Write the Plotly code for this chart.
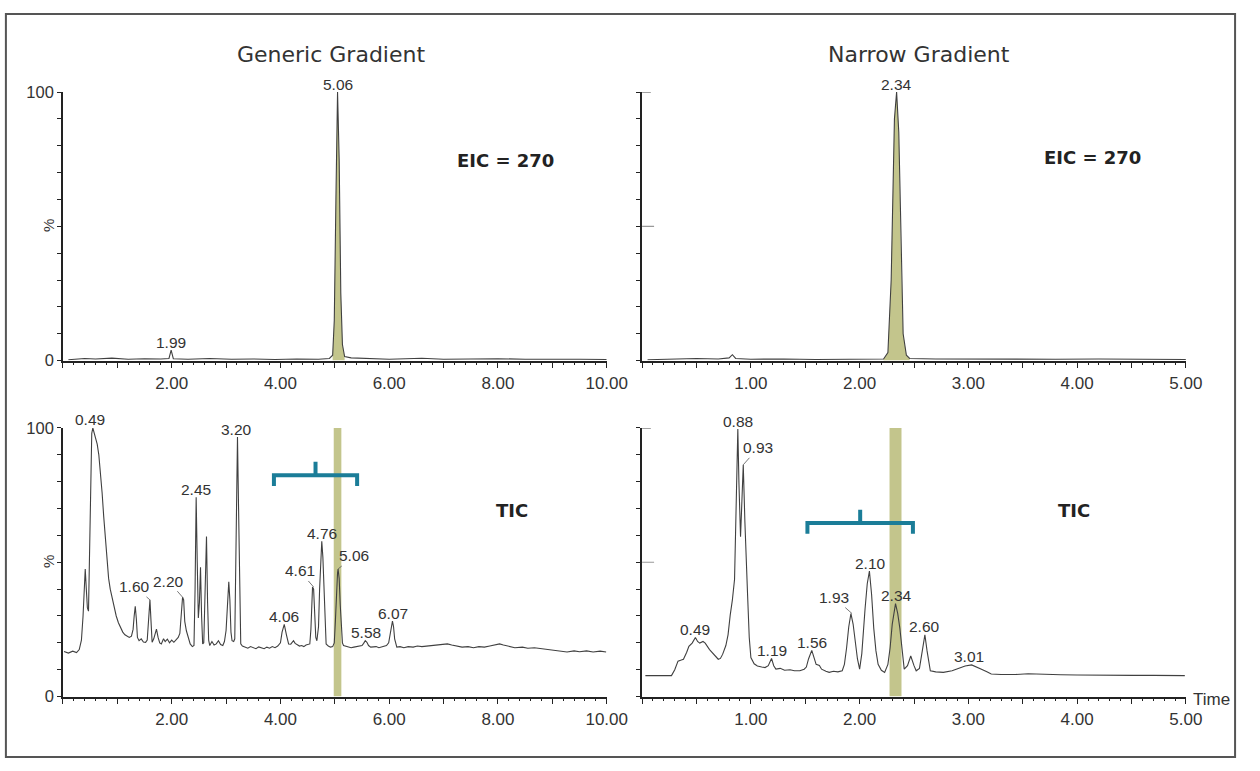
import plotly.graph_objects as go

# ---------------- data ----------------
# Generic gradient, EIC = 270 (time in min, intensity in %)
gen_eic_time = [0.10, 0.40, 0.60, 0.90, 1.20, 1.50, 1.80, 1.95, 1.99, 2.03, 2.30, 2.70, 3.10,
                3.50, 3.90, 4.30, 4.70, 4.90, 4.96, 4.99, 5.02, 5.05, 5.08, 5.11, 5.14, 5.18,
                5.30, 5.60, 6.00, 6.60, 7.00, 7.50, 8.00, 8.50, 9.00, 9.50, 10.00]
gen_eic_pct = [0.3, 0.8, 0.6, 0.9, 0.5, 0.7, 0.6, 0.8, 3.9, 0.7, 0.5, 0.8, 0.5,
               0.6, 0.4, 0.6, 0.5, 0.8, 2.0, 15.0, 60.0, 100.0, 75.0, 25.0, 6.0, 1.5,
               1.0, 0.7, 0.5, 0.9, 0.5, 0.6, 0.7, 0.5, 0.6, 0.5, 0.4]

# Narrow gradient, EIC = 270
nar_eic_time = [0.05, 0.30, 0.50, 0.70, 0.80, 0.83, 0.86, 1.00, 1.30, 1.60, 1.90, 2.10, 2.22,
                2.26, 2.29, 2.32, 2.34, 2.36, 2.38, 2.40, 2.43, 2.46, 2.70, 3.00, 3.40, 3.80,
                4.20, 4.60, 5.00]
nar_eic_pct = [0.3, 0.5, 0.8, 0.6, 1.0, 2.2, 0.8, 0.5, 0.6, 0.4, 0.6, 0.5, 0.6,
               3.0, 30.0, 90.0, 100.0, 85.0, 40.0, 10.0, 2.0, 0.8, 0.6, 0.5, 0.6, 0.5,
               0.6, 0.5, 0.4]

# Generic gradient, TIC
gen_tic_time = [0.02, 0.10, 0.18, 0.25, 0.30, 0.34, 0.37, 0.40, 0.41, 0.43, 0.45, 0.47, 0.49,
                0.51, 0.53, 0.55, 0.57, 0.60, 0.63, 0.66, 0.69, 0.72, 0.75, 0.78, 0.81, 0.84,
                0.87, 0.90, 0.94, 0.98, 1.02, 1.06, 1.10, 1.14, 1.18, 1.22, 1.26, 1.29, 1.31,
                1.33, 1.35, 1.37, 1.40, 1.44, 1.48, 1.52, 1.55, 1.57, 1.59, 1.60, 1.62, 1.64,
                1.67, 1.70, 1.72, 1.75, 1.78, 1.81, 1.85, 1.88, 1.92, 1.96, 2.00, 2.04, 2.08,
                2.12, 2.15, 2.18, 2.20, 2.22, 2.24, 2.27, 2.30, 2.34, 2.38, 2.41, 2.43, 2.45,
                2.47, 2.49, 2.51, 2.53, 2.55, 2.57, 2.59, 2.61, 2.64, 2.66, 2.68, 2.70, 2.74,
                2.78, 2.82, 2.86, 2.90, 2.94, 2.97, 3.00, 3.03, 3.05, 3.07, 3.09, 3.11, 3.14,
                3.16, 3.18, 3.20, 3.21, 3.23, 3.25, 3.27, 3.30, 3.35, 3.40, 3.45, 3.50, 3.55,
                3.60, 3.65, 3.70, 3.75, 3.80, 3.85, 3.90, 3.95, 4.00, 4.03, 4.07, 4.11, 4.15,
                4.19, 4.22, 4.24, 4.27, 4.31, 4.35, 4.39, 4.43, 4.47, 4.51, 4.54, 4.56, 4.58,
                4.59, 4.61, 4.63, 4.65, 4.67, 4.70, 4.72, 4.74, 4.76, 4.78, 4.80, 4.82, 4.84,
                4.88, 4.92, 4.96, 4.99, 5.01, 5.03, 5.05, 5.06, 5.08, 5.10, 5.12, 5.14, 5.16,
                5.20, 5.25, 5.30, 5.35, 5.40, 5.45, 5.50, 5.53, 5.56, 5.59, 5.62, 5.66, 5.71,
                5.76, 5.81, 5.86, 5.91, 5.95, 5.99, 6.02, 6.04, 6.06, 6.08, 6.10, 6.14, 6.20,
                6.27, 6.35, 6.44, 6.52, 6.60, 6.70, 6.80, 6.90, 7.00, 7.07, 7.15, 7.25, 7.34,
                7.45, 7.55, 7.65, 7.75, 7.85, 7.95, 8.03, 8.10, 8.20, 8.31, 8.45, 8.55, 8.67,
                8.80, 8.97, 9.10, 9.27, 9.40, 9.50, 9.63, 9.75, 9.88, 9.99]
gen_tic_pct = [16.8, 16.2, 16.9, 16.4, 17.5, 21.0, 30.0, 44.0, 47.5, 40.0, 33.0, 31.8, 55.0,
               88.0, 98.0, 100.0, 98.5, 97.0, 94.0, 90.0, 84.0, 76.0, 67.0, 58.0, 50.0, 44.0,
               40.0, 37.0, 33.0, 30.0, 27.5, 25.5, 24.0, 23.0, 22.5, 22.0, 22.5, 25.0, 30.0,
               33.6, 29.0, 22.0, 20.8, 21.5, 20.3, 20.2, 21.0, 28.0, 35.0, 36.0, 28.0, 20.2,
               21.5, 24.5, 25.1, 22.0, 20.0, 19.6, 21.5, 20.5, 21.4, 20.0, 21.0, 20.2, 21.0,
               22.0, 23.5, 30.0, 37.0, 36.0, 28.0, 24.5, 22.0, 19.6, 18.6, 19.0, 40.0, 74.2,
               50.0, 29.3, 35.0, 48.1, 30.0, 19.6, 20.0, 35.0, 59.6, 35.0, 21.0, 19.0, 20.5,
               19.2, 19.6, 20.8, 19.4, 19.0, 20.5, 24.6, 38.0, 42.7, 36.0, 24.0, 20.8, 20.5,
               21.5, 60.0, 94.0, 96.6, 70.0, 35.0, 19.6, 18.8, 18.4, 18.0, 18.6, 18.2, 17.8,
               18.5, 18.0, 17.8, 18.4, 18.0, 18.6, 18.2, 18.8, 20.0, 24.0, 26.9, 23.0, 19.6,
               19.5, 20.6, 20.8, 19.8, 19.2, 18.8, 19.0, 18.6, 19.2, 19.4, 19.6, 25.0, 38.0,
               40.8, 40.0, 30.0, 22.0, 20.8, 26.0, 40.0, 53.0, 57.8, 52.0, 38.0, 25.0, 19.6,
               18.8, 18.4, 18.6, 20.0, 28.0, 40.0, 46.0, 47.5, 44.0, 34.0, 24.0, 20.0, 19.0,
               18.8, 18.4, 18.2, 18.4, 18.6, 18.8, 19.0, 19.8, 20.8, 20.2, 19.0, 18.4, 18.4,
               18.6, 18.2, 18.4, 18.8, 19.0, 20.0, 24.0, 27.0, 28.1, 26.0, 21.5, 18.4, 18.6,
               18.2, 18.6, 18.4, 18.8, 18.6, 18.8, 19.0, 19.4, 19.6, 19.6, 19.2, 18.8, 18.4,
               18.6, 18.2, 18.6, 18.4, 18.8, 19.2, 19.6, 19.2, 18.6, 18.2, 18.4, 18.0, 18.2,
               17.8, 17.5, 17.0, 16.6, 17.0, 16.7, 17.0, 16.6, 16.9, 16.6]

# Narrow gradient, TIC
nar_tic_time = [0.03, 0.10, 0.20, 0.27, 0.30, 0.33, 0.36, 0.38, 0.41, 0.43, 0.46, 0.49, 0.51,
                0.53, 0.56, 0.58, 0.62, 0.66, 0.70, 0.72, 0.74, 0.77, 0.79, 0.81, 0.83, 0.85,
                0.86, 0.87, 0.88, 0.89, 0.905, 0.915, 0.93, 0.945, 0.96, 0.97, 0.985, 1.00,
                1.03, 1.06, 1.10, 1.13, 1.16, 1.19, 1.21, 1.23, 1.27, 1.31, 1.36, 1.40, 1.45,
                1.49, 1.51, 1.53, 1.56, 1.58, 1.60, 1.63, 1.65, 1.69, 1.72, 1.76, 1.80, 1.84,
                1.86, 1.88, 1.90, 1.92, 1.94, 1.96, 1.98, 2.00, 2.02, 2.05, 2.07, 2.09, 2.11,
                2.13, 2.15, 2.17, 2.20, 2.23, 2.26, 2.28, 2.30, 2.33, 2.35, 2.37, 2.39, 2.41,
                2.44, 2.47, 2.50, 2.52, 2.55, 2.57, 2.60, 2.62, 2.65, 2.70, 2.77, 2.85, 2.92,
                2.97, 3.03, 3.08, 3.12, 3.17, 3.21, 3.30, 3.43, 3.55, 3.65, 3.72, 3.85, 4.00,
                4.15, 4.30, 4.52, 4.70, 4.85, 4.99]
nar_tic_pct = [7.8, 7.8, 7.8, 7.8, 10.0, 13.2, 13.6, 13.9, 16.5, 18.7, 19.9, 22.0, 20.5,
               19.9, 20.5, 19.9, 17.5, 15.5, 13.9, 14.2, 15.7, 19.0, 23.0, 30.3, 36.0, 43.7,
               60.0, 85.0, 99.6, 80.0, 59.5, 70.0, 86.3, 65.0, 45.0, 37.6, 22.0, 14.5,
               12.2, 11.4, 11.0, 10.8, 11.5, 14.2, 11.5, 10.2, 10.5, 9.8, 10.0, 9.6, 9.6,
               10.2, 11.0, 14.0, 17.2, 14.5, 12.0, 11.6, 10.2, 9.4, 9.0, 9.4, 9.2, 9.6,
               12.0, 18.1, 26.0, 30.9, 27.0, 20.5, 14.0, 10.2, 16.0, 32.7, 42.0, 46.7, 38.0,
               25.4, 17.0, 12.0, 9.8, 9.0, 12.0, 18.1, 27.0, 34.6, 31.0, 25.4, 17.0, 10.2,
               11.5, 15.1, 11.5, 9.6, 10.5, 16.0, 23.0, 17.0, 9.6, 9.2, 9.0, 9.6, 10.8,
               11.4, 11.8, 11.0, 10.2, 9.2, 8.4, 8.2, 8.2, 8.5, 8.3, 8.4, 8.1, 8.0,
               7.9, 8.0, 7.9, 7.9, 7.8, 7.8]

# peak labels (retention times printed on the chart)
gen_eic_labels = ["1.99", "5.06"]
nar_eic_labels = ["2.34"]
gen_tic_labels = ["0.49", "1.60", "2.20", "2.45", "3.20", "4.06", "4.61", "4.76", "5.06", "5.58", "6.07"]
nar_tic_labels = ["0.49", "0.88", "0.93", "1.19", "1.56", "1.93", "2.10", "2.34", "2.60", "3.01"]

# target compound retention time in each method and the bracketed window
target_rt = {"generic": 5.06, "narrow": 2.34}
bracket_span = {"generic": (3.88, 5.41, 82.4), "narrow": (1.52, 2.49, 64.6)}

titles = ["Generic Gradient", "Narrow Gradient"]
gen_xticks = [0, 1, 2, 3, 4, 5, 6, 7, 8, 9, 10]
gen_xtext = ["", "", "2.00", "", "4.00", "", "6.00", "", "8.00", "", "10.00"]
nar_xticks = [0, 0.5, 1, 1.5, 2, 2.5, 3, 3.5, 4, 4.5, 5]
nar_xtext = ["", "", "1.00", "", "2.00", "", "3.00", "", "4.00", "", "5.00"]
yticks = [0, 10, 20, 30, 40, 50, 60, 70, 80, 90, 100]
ytext_left = ["0", "", "", "", "", "", "", "", "", "", "100"]

# ---------------- styling ----------------
W, H = 1260, 771
LINE = "#404040"
GREEN = "#c3c58c"
TEAL = "#1b7d98"
TXT = "#333333"
AX = "#222222"
LBL_FONT = dict(family="Liberation Sans, Arial, sans-serif", size=15.5, color=TXT)
XTICK_FONT = dict(family="Liberation Sans, Arial, sans-serif", size=17, color=TXT)
YTICK_FONT = dict(family="Liberation Sans, Arial, sans-serif", size=16.5, color=TXT)


def px(x):
    return x / W


def py(y):
    return 1 - y / H


XL = [px(64), px(617)]
XR = [px(653), px(1206)]
YT = [py(360), py(85)]
YB = [py(704), py(429)]

fig = go.Figure()

panels = [
    ("x", "y", gen_eic_time, gen_eic_pct, gen_eic_labels, 0.06),
    ("x2", "y2", nar_eic_time, nar_eic_pct, nar_eic_labels, 0.03),
    ("x3", "y3", gen_tic_time, gen_tic_pct, gen_tic_labels, 0.06),
    ("x4", "y4", nar_tic_time, nar_tic_pct, nar_tic_labels, 0.03),
]

# green filled target peak in EIC panels
for (xa, ya, tt, vv, _, _), key in zip(panels[:2], ["generic", "narrow"]):
    rt = target_rt[key]
    sel = [(t, v) for t, v in zip(tt, vv) if abs(t - rt) <= 0.13]
    fig.add_trace(go.Scatter(x=[s[0] for s in sel], y=[s[1] for s in sel], xaxis=xa, yaxis=ya,
                             mode="lines", line=dict(width=0, color=GREEN), fill="tozeroy",
                             fillcolor=GREEN, hoverinfo="skip"))

for xa, ya, tt, vv, _, _ in panels:
    fig.add_trace(go.Scatter(x=tt, y=vv, xaxis=xa, yaxis=ya, mode="lines",
                             line=dict(color=LINE, width=1.1), hoverinfo="skip"))

annotations = []
shapes = []

# leader-line offsets (pixels) for labels that sit beside their peak
leaders = {
    ("x3", "1.60"): (-15, -13), ("x3", "2.20"): (-14, -16), ("x3", "4.61"): (-14, -16),
    ("x3", "5.06"): (16, -13), ("x4", "0.93"): (15, -17), ("x4", "1.93"): (-18, -16),
}

for xa, ya, tt, vv, labels, win in panels:
    for lab in labels:
        t0 = float(lab)
        apex = max(v for t, v in zip(tt, vv) if abs(t - t0) <= win + 1e-9)
        if (xa, lab) in leaders:
            ax, ay = leaders[(xa, lab)]
            annotations.append(dict(x=t0, y=apex, xref=xa, yref=ya, text=lab, showarrow=True,
                                    ax=ax, ay=ay, arrowhead=0, arrowwidth=0.8, arrowcolor="#555",
                                    standoff=0, font=LBL_FONT))
        else:
            annotations.append(dict(x=t0, y=apex, xref=xa, yref=ya, text=lab, showarrow=False,
                                    xanchor="center", yanchor="middle", yshift=8, font=LBL_FONT))

# highlight bands at target retention time in TIC panels
for xa, ya, key, hw in [("x3", "y3", "generic", 0.07), ("x4", "y4", "narrow", 0.055)]:
    rt = target_rt[key] - 0.01
    shapes.append(dict(type="rect", xref=xa, yref=ya, x0=rt - hw, x1=rt + hw, y0=0, y1=100,
                       fillcolor=GREEN, line=dict(width=0), layer="below"))

# brackets
for xa, ya, key, dn, up in [("x3", "y3", "generic", 4.0, 5.0), ("x4", "y4", "narrow", 4.0, 5.0)]:
    x0, x1, yh = bracket_span[key]
    xc = (x0 + x1) / 2
    path = (f"M {x0},{yh - dn} L {x0},{yh} L {x1},{yh} L {x1},{yh - dn} "
            f"M {xc},{yh} L {xc},{yh + up}")
    shapes.append(dict(type="path", xref=xa, yref=ya, path=path,
                       line=dict(color=TEAL, width=4)))

# short inner ticks on the right-hand y axes
for xa, ya in [("x2", "y2"), ("x4", "y4")]:
    shapes.append(dict(type="line", xref=f"{xa} domain", yref=ya, x0=0, x1=0.016, y0=100, y1=100,
                       line=dict(color="#444", width=1.2)))
    shapes.append(dict(type="line", xref=f"{xa} domain", yref=ya, x0=0, x1=0.022, y0=50, y1=50,
                       line=dict(color="#999", width=1.2)))

# outer frame
shapes.append(dict(type="rect", xref="paper", yref="paper", x0=px(6), x1=px(1256), y0=py(766), y1=py(5),
                   line=dict(color="#555", width=2), fillcolor="rgba(0,0,0,0)"))

# titles and panel tags
title_font = dict(family="DejaVu Sans, Verdana, sans-serif", size=22, color=TXT)
tag_font = dict(family="DejaVu Sans, Verdana, sans-serif", size=18, color="#222")
pct_font = dict(family="Liberation Sans, Arial", size=15, color=TXT)
paper_text = [
    (337, 47, titles[0], title_font, 0),
    (935, 47, titles[1], title_font, 0),
    (514, 155, "<b>EIC = 270</b>", tag_font, 0),
    (1111, 152, "<b>EIC = 270</b>", tag_font, 0),
    (521, 513, "<b>TIC</b>", tag_font, 0),
    (1092, 513, "<b>TIC</b>", tag_font, 0),
    (50, 222, "%", pct_font, -90),
    (50, 566, "%", pct_font, -90),
    (1232, 707, "Time", XTICK_FONT, 0),
]
for xp, yp, txt, fnt, ang in paper_text:
    annotations.append(dict(x=px(xp), y=py(yp), xref="paper", yref="paper", text=txt,
                            showarrow=False, xanchor="center", yanchor="middle",
                            textangle=ang, font=fnt))


def xaxis(domain, anchor, rng, tv, tt, minor_step):
    return dict(domain=domain, anchor=anchor, range=rng, tickmode="array", tickvals=tv, ticktext=tt,
                ticks="outside", ticklen=6, tickwidth=1, tickcolor=AX, showline=True, linecolor=AX,
                linewidth=1.5, showgrid=False, zeroline=False, tickfont=XTICK_FONT, fixedrange=True,
                minor=dict(tickmode="linear", tick0=0, dtick=minor_step, ticks="outside", ticklen=3,
                           tickwidth=1, tickcolor=AX, showgrid=False))


def yaxis(domain, anchor, tt):
    return dict(domain=domain, anchor=anchor, range=[0, 100], tickmode="array", tickvals=yticks,
                ticktext=tt, ticks="outside", ticklen=4, tickwidth=1, tickcolor=AX, showline=True,
                linecolor=AX, linewidth=1.5, showgrid=False, zeroline=False, tickfont=YTICK_FONT,
                fixedrange=True)


blank = [""] * len(yticks)
fig.update_layout(
    width=W, height=H, autosize=False, margin=dict(l=0, r=0, t=0, b=0, pad=0),
    paper_bgcolor="white", plot_bgcolor="white", showlegend=False,
    xaxis=xaxis(XL, "y", [0, 10], gen_xticks, gen_xtext, 0.2),
    xaxis2=xaxis(XR, "y2", [0, 5], nar_xticks, nar_xtext, 0.1),
    xaxis3=xaxis(XL, "y3", [0, 10], gen_xticks, gen_xtext, 0.2),
    xaxis4=xaxis(XR, "y4", [0, 5], nar_xticks, nar_xtext, 0.1),
    yaxis=yaxis(YT, "x", ytext_left),
    yaxis2=yaxis(YT, "x2", blank),
    yaxis3=yaxis(YB, "x3", ytext_left),
    yaxis4=yaxis(YB, "x4", blank),
    annotations=annotations, shapes=shapes,
)

fig.write_html("out.html", config={"displayModeBar": False},
               post_script="document.body.style.margin='0';document.body.style.overflow='hidden';")
